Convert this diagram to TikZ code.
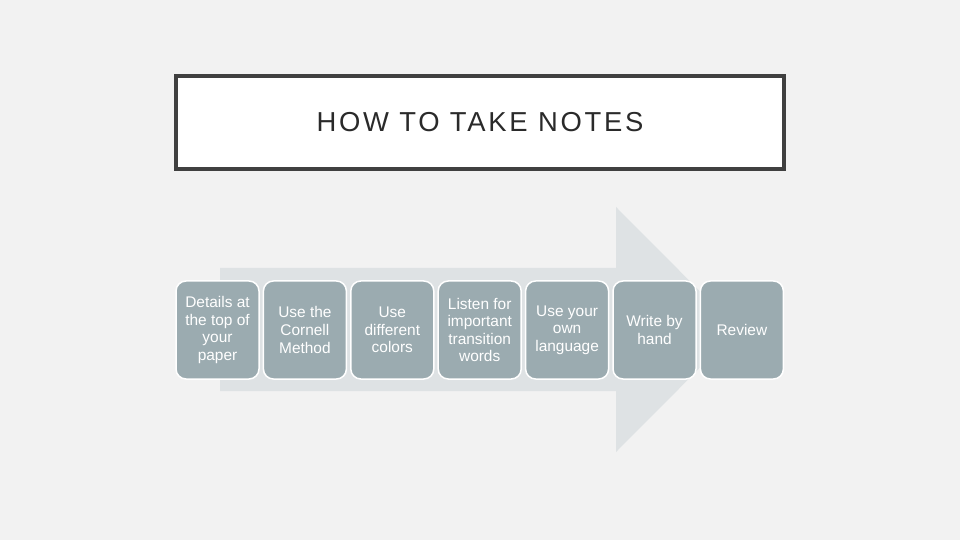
\documentclass[tikz,border=0pt]{standalone}
\usepackage{fontspec}
\setmainfont{Liberation Sans}
\newfontfamily\titlefont[LetterSpace=10]{Liberation Sans}
\usetikzlibrary{positioning}

\definecolor{pagegray}{HTML}{F2F2F2}
\definecolor{arrowgray}{HTML}{DEE2E4}
\definecolor{boxgray}{HTML}{9BABB0}
\definecolor{framegray}{HTML}{404040}
\definecolor{titleink}{HTML}{2A2A2A}

\begin{document}
\begin{tikzpicture}[x=1bp,y=-1bp,node distance=87.4bp,on grid,
stepbox/.style={draw=white,line width=1.5bp,fill=boxgray,rounded corners=10bp,
    minimum width=83bp,minimum height=98bp,inner sep=1bp,align=center,
    text=white,font=\fontsize{15.5}{17.7}\selectfont},
titlebox/.style={draw=framegray,line width=4bp,fill=white,
    minimum width=608bp,minimum height=93bp,
    text=titleink,font=\titlefont\fontsize{27.5}{30}\selectfont}]

\useasboundingbox[fill=pagegray] (0,0) rectangle (960,540);

% big arrow behind the steps
\fill[arrowgray] (220,268) -- (616,268) -- (616,207) -- (738,329.5)
   -- (616,452) -- (616,391) -- (220,391) -- cycle;

\node[titlebox](title) at (480,122.5) {HOW TO TAKE NOTES};

\node[stepbox](details) at (217.5,330) {Details at\\the top of\\your\\paper};
\node[stepbox](cornell) [right=of details] {Use the\\Cornell\\Method};
\node[stepbox](colors) [right=of cornell] {Use\\different\\colors};
\node[stepbox](listen) [right=of colors] {Listen for\\important\\transition\\words};
\node[stepbox](language) [right=of listen] {Use your\\own\\language};
\node[stepbox](hand) [right=of language] {Write by\\hand};
\node[stepbox](review) [right=of hand] {Review};

\end{tikzpicture}
\end{document}
